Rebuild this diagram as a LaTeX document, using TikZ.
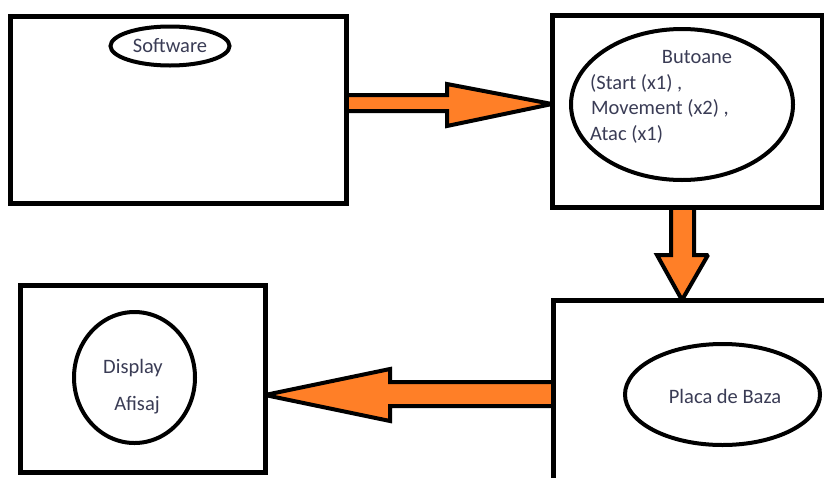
\documentclass[tikz,border=0pt]{standalone}
\usepackage{fontspec}
\setmainfont{Carlito}
\usetikzlibrary{shapes.geometric}
\definecolor{paintorange}{RGB}{255,127,39}
\definecolor{txt}{RGB}{58,60,85}
\tikzset{
  box/.style={draw=black, line width=5pt, rectangle, inner sep=0pt, outer sep=0pt, fill=white},
  oval/.style={draw=black, line width=4pt, ellipse, inner sep=0pt, outer sep=0pt},
  lbl/.style={text=txt, font=\fontsize{20.5}{26}\selectfont, inner sep=0pt},
  arr/.style={draw=black, line width=4pt, fill=paintorange, line join=miter, miter limit=2},
}
\begin{document}
\begin{tikzpicture}[x=1pt,y=-1pt]
\useasboundingbox (0,0) rectangle (824,477);
\clip (0,0) rectangle (824,477);
\fill[white] (0,0) rectangle (824,477);
% boxes
\node[box, minimum width=336pt, minimum height=187pt] (sw) at (178,109.5) {};
\node[box, minimum width=270pt, minimum height=192pt] (bt) at (687,111) {};
\node[box, minimum width=374pt, minimum height=240pt] (pb) at (740,420) {};
\node[box, minimum width=245pt, minimum height=187pt] (ds) at (142.5,378.5) {};
% ovals
\node[oval, minimum width=119pt, minimum height=39pt] (swo) at (170,46) {};
\node[lbl] (swt) at (swo.center) {Software};
\node[oval, minimum width=222pt, minimum height=151pt] (bto) at (682,104.5) {};
\node[lbl] (btt) at (697,57) {Butoane};
\node[lbl, anchor=west] (bt1) at (590,83) {(Start (x1) ,};
\node[lbl, anchor=west] (bt2) at (591,108) {Movement (x2) ,};
\node[lbl, anchor=west] (bt3) at (590,134) {Atac (x1)};
\node[oval, minimum width=195pt, minimum height=101pt] (pbo) at (722.5,394.5) {};
\node[lbl] (pbt) at (725,396) {Placa de Baza};
\node[oval, minimum width=121pt, minimum height=131pt] (dso) at (134.5,377.5) {};
\node[lbl] (dst1) at (133,368) {Display};
\node[lbl] (dst2) at (137,405) {Afisaj};
% arrows
\draw[arr] (sw.east |- 0,95) -- (447,95) -- (447,84) -- (bt.west |- 0,104)
  -- (447,126) -- (447,111) -- (sw.east |- 0,111) -- cycle;
\draw[arr] (671,0 |- bt.south) -- (671,255) -- (657,255) -- (682,0 |- pb.north)
  -- (708,255) -- (694,255) -- (694,0 |- bt.south) -- cycle;
\draw[arr] (pb.west |- 0,382) -- (390,382) -- (390,369) -- (ds.east |- 0,395)
  -- (390,421) -- (390,406) -- (pb.west |- 0,406) -- cycle;
% redraw box edges over arrow bases
\draw[line width=5pt] (sw.north east) -- (sw.south east);
\draw[line width=5pt] (bt.south west) -- (bt.south east);
\draw[line width=5pt] (pb.north west) -- (pb.south west);
\end{tikzpicture}
\end{document}
